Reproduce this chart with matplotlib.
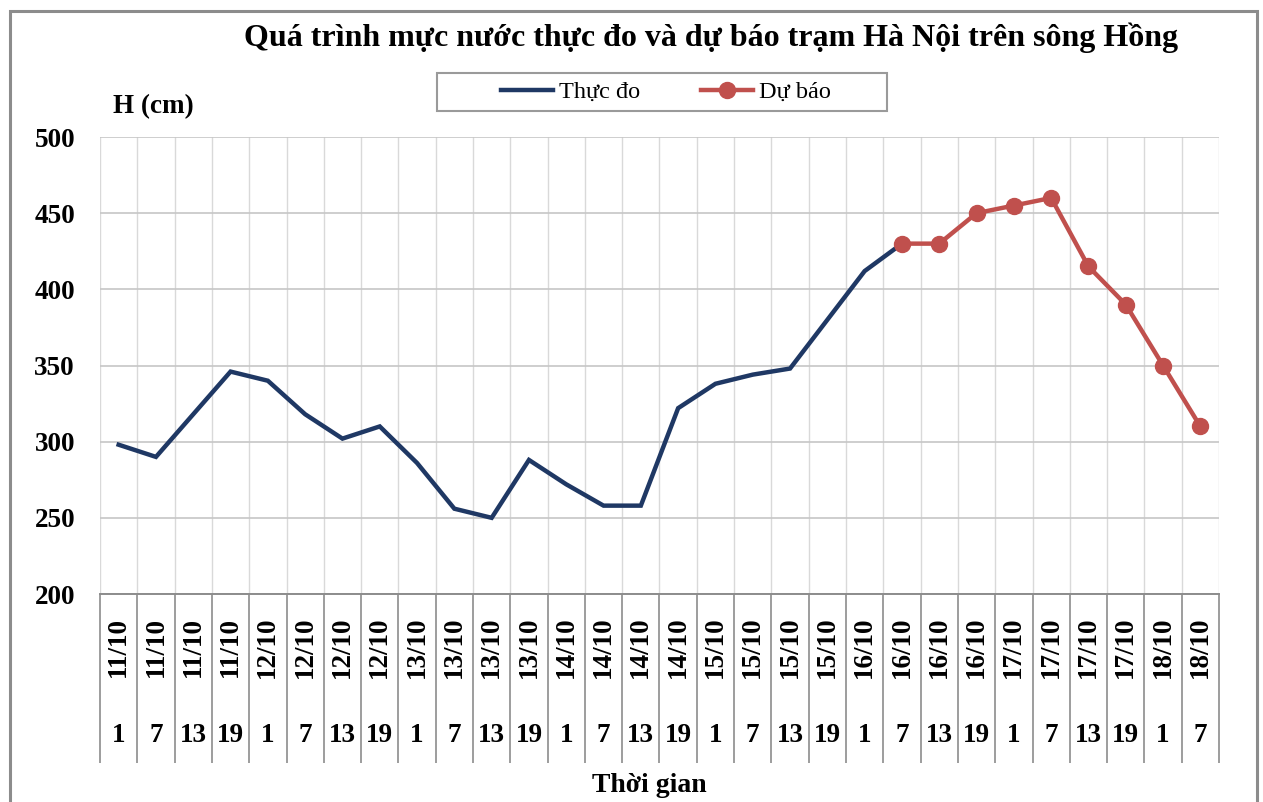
#!/usr/bin/env python3
"""
Observed vs forecast water level, Ha Noi station on the Red River
"""

import numpy as np
import matplotlib
matplotlib.use("Agg")
import matplotlib.pyplot as plt
from matplotlib.patches import Rectangle

plt.rcParams["font.family"] = ["Liberation Serif", "DejaVu Serif"]

# --- data ---
DATES = (["11/10"] * 4 + ["12/10"] * 4 + ["13/10"] * 4 + ["14/10"] * 4
         + ["15/10"] * 4 + ["16/10"] * 4 + ["17/10"] * 4 + ["18/10"] * 2)
HOURS = ["1", "7", "13", "19"] * 7 + ["1", "7"]

OBSERVED = [298, 290, 318, 346, 340, 318, 302, 310, 286, 256, 250, 288,
            272, 258, 258, 322, 338, 344, 348, 380, 412, 430]
FORECAST_START = 21
FORECAST = [430, 430, 450, 455, 460, 415, 390, 350, 310]

Y_TICKS = [200, 250, 300, 350, 400, 450, 500]

C_OBS = "#1f3864"
C_FC = "#c0504d"
C_DARK = "#8c8c8c"
C_GRID_V = "#d9d9d9"
C_GRID_H = "#c6c6c6"

W, H = 1263, 802


def main():
    fig = plt.figure(figsize=(W / 100, H / 100), dpi=100)
    ax = fig.add_axes([100 / W, 1 - 594 / H, 1119 / W, 457 / H])

    n = len(DATES)
    x_obs = np.arange(len(OBSERVED))
    x_fc = np.arange(FORECAST_START, FORECAST_START + len(FORECAST))

    ax.plot(x_obs, OBSERVED, color=C_OBS, lw=3.2, solid_joinstyle="miter",
            label="Thực đo", zorder=3)
    ax.plot(x_fc, FORECAST, color=C_FC, lw=3.2, marker="o", ms=11.5,
            label="Dự báo", zorder=4)

    ax.set_xlim(-0.5, n - 0.5)
    ax.set_ylim(Y_TICKS[0], Y_TICKS[-1])
    ax.set_yticks(Y_TICKS)
    for lab in ax.get_yticklabels():
        lab.set_fontweight("bold")
    ax.tick_params(axis="y", length=0, pad=18, labelsize=19.5)

    # category boundaries: light grid inside, long dark ticks make the table below
    ax.set_xticks(np.arange(-0.5, n, 1.0))
    ax.tick_params(axis="x", length=122, width=1.2, color=C_DARK,
                   direction="out", labelbottom=False)
    ax.grid(axis="x", color=C_GRID_V, lw=1.0)
    ax.grid(axis="y", color=C_GRID_H, lw=1.2)
    ax.set_axisbelow(True)
    for side in ("top", "left", "right"):
        ax.spines[side].set_visible(False)
    ax.spines["bottom"].set_color(C_DARK)
    ax.spines["bottom"].set_linewidth(1.4)

    for i, (d, h) in enumerate(zip(DATES, HOURS)):
        ax.annotate(d, xy=(i, 0), xycoords=("data", "axes fraction"),
                    xytext=(0, -53 * 0.72), textcoords="offset points",
                    rotation=90, ha="center", va="center",
                    fontsize=19.5, fontweight="bold")
        ax.annotate(h, xy=(i, 0), xycoords=("data", "axes fraction"),
                    xytext=(0, -141 * 0.72), textcoords="offset points",
                    ha="center", va="center", fontsize=19.5, fontweight="bold")

    fig.text(711.5 / W, 1 - 38 / H,
             "Quá trình mực nước thực đo và dự báo trạm Hà Nội trên sông Hồng",
             ha="center", va="center", fontsize=23, fontweight="bold")
    fig.text(113 / W, 1 - 107 / H, "H (cm)", ha="left", va="center",
             fontsize=19.5, fontweight="bold")
    fig.text(649 / W, 1 - 786 / H, "Thời gian", ha="center", va="center",
             fontsize=20, fontweight="bold")

    # legend with a hand-drawn frame (wider than its content, as in the source)
    fig.legend(loc="center", bbox_to_anchor=(666 / W, 1 - 92 / H), ncol=2,
               frameon=False, fontsize=17.5, handlelength=2.15,
               handletextpad=0.25, columnspacing=2.5)
    fig.add_artist(Rectangle((437 / W, 1 - 111 / H), 450 / W, 38 / H,
                             transform=fig.transFigure, fill=False,
                             ec="#9a9a9a", lw=1.5))

    # outer chart border
    fig.add_artist(Rectangle((9.5 / W, -0.02), (1257 - 9.5) / W,
                             1 - 11 / H + 0.02, transform=fig.transFigure,
                             fill=False, ec=C_DARK, lw=2.2))

    fig.savefig("out.png", dpi=100)


if __name__ == "__main__":
    main()
